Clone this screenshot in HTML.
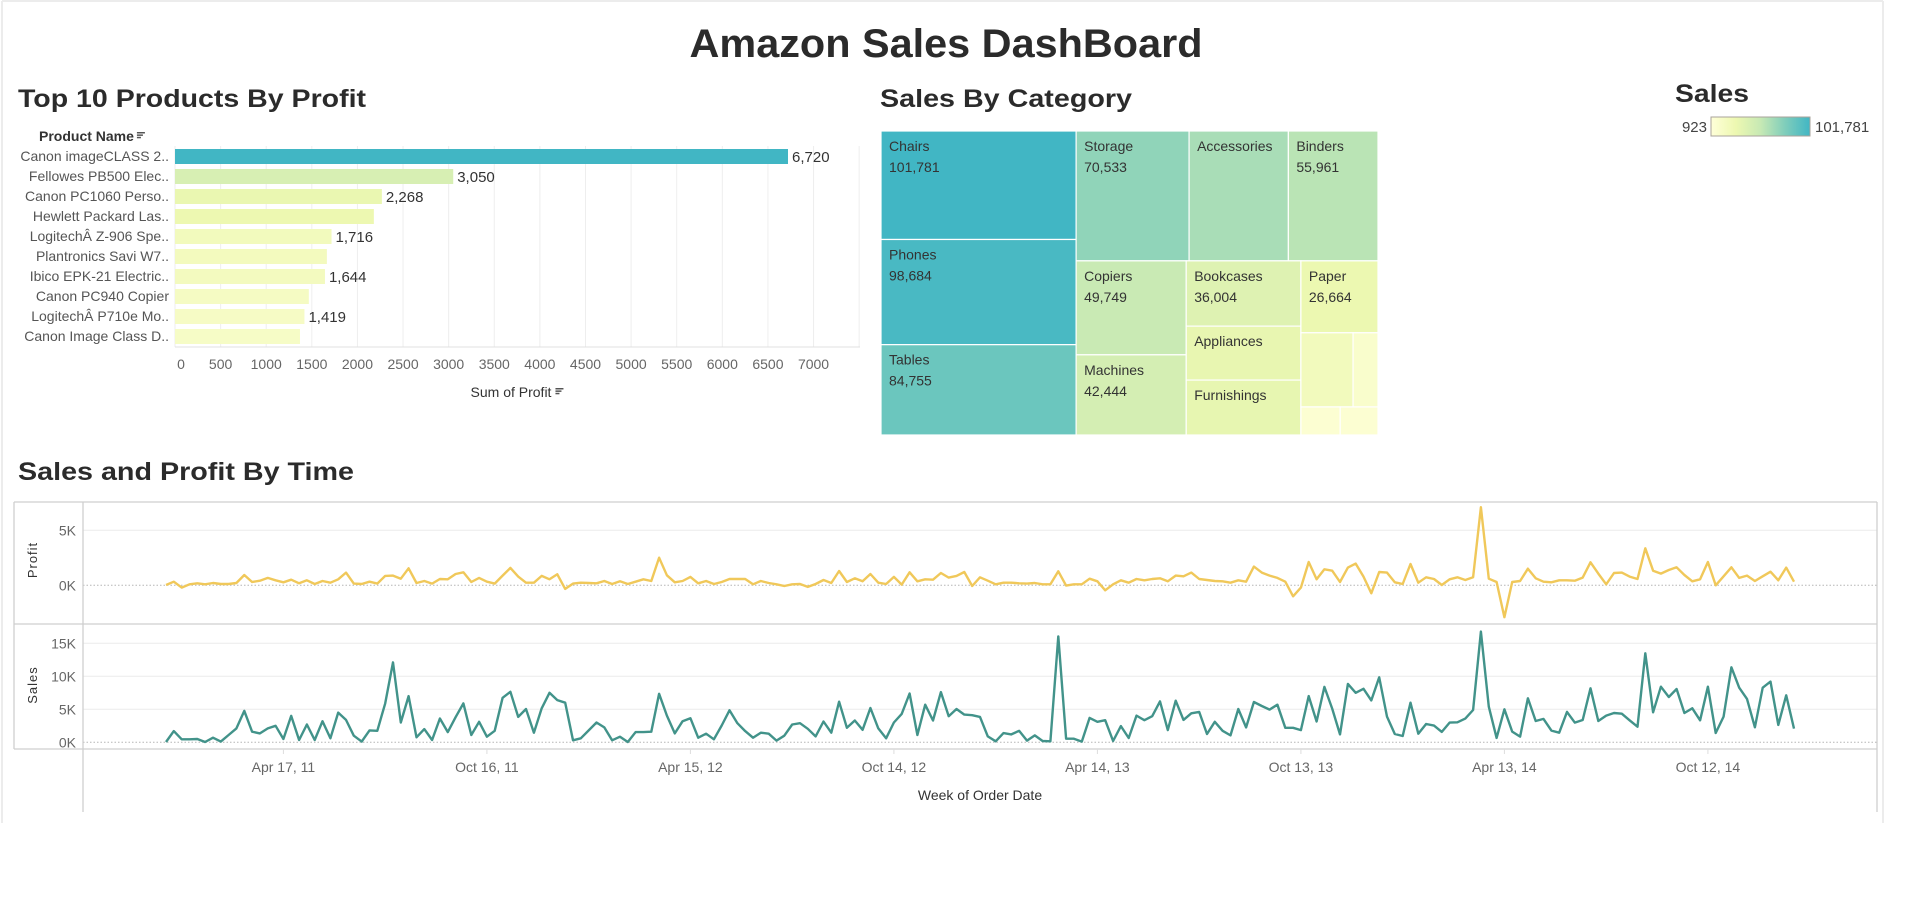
<!DOCTYPE html>
<html><head><meta charset="utf-8"><title>Amazon Sales DashBoard</title>
<style>
html,body{margin:0;padding:0;background:#fff;}
svg{display:block;font-family:"Liberation Sans",sans-serif;}
</style></head>
<body>
<svg id="dash" width="1914" height="914" viewBox="0 0 1914 914" xmlns="http://www.w3.org/2000/svg">
  <line x1="2" y1="1" x2="1883" y2="1" stroke="#ececec" stroke-width="2"/>
  <line x1="2" y1="1" x2="2" y2="823" stroke="#ececec" stroke-width="2"/>
  <line x1="1883" y1="1" x2="1883" y2="823" stroke="#ececec" stroke-width="2"/>
  <text x="946" y="57" text-anchor="middle" font-size="40" font-weight="bold" fill="#2b2b2b" textLength="513" lengthAdjust="spacingAndGlyphs">Amazon Sales DashBoard</text>
  <text x="18" y="107" font-size="25" font-weight="bold" fill="#2b2b2b" textLength="348" lengthAdjust="spacingAndGlyphs">Top 10 Products By Profit</text>
  <text x="880" y="107" font-size="25" font-weight="bold" fill="#2b2b2b" textLength="252" lengthAdjust="spacingAndGlyphs">Sales By Category</text>
  <text x="18" y="480" font-size="25" font-weight="bold" fill="#2b2b2b" textLength="336" lengthAdjust="spacingAndGlyphs">Sales and Profit By Time</text>
  <g id="bars"></g>
  <g id="tree"></g>
  <g id="legend"></g>
  <g id="lines"></g>
</svg>
<script>
// ---------- Bar chart data ----------
const products = ["Canon imageCLASS 2..","Fellowes PB500 Elec..","Canon PC1060 Perso..","Hewlett Packard Las..","LogitechÂ Z-906 Spe..","Plantronics Savi W7..","Ibico EPK-21 Electric..","Canon PC940 Copier","LogitechÂ P710e Mo..","Canon Image Class D.."];
const profits = [6720,3050,2268,2180,1716,1665,1644,1467,1419,1370];
const showProfitLabel = [true,true,true,false,true,false,true,false,true,false];
const profitTicks = [0,500,1000,1500,2000,2500,3000,3500,4000,4500,5000,5500,6000,6500,7000];

// ---------- Treemap data ----------
const categories = ["Chairs","Phones","Tables","Storage","Accessories","Binders","Copiers","Machines","Bookcases","Appliances","Furnishings","Paper","Art","Supplies","Envelopes","Labels"];
const categorySales = [101781,98684,84755,70533,62000,55961,49749,42444,36004,29750,30300,26664,18600,8900,5300,5100];
const showCatName = [true,true,true,true,true,true,true,true,true,true,true,true,false,false,false,false];
const showCatValue = [true,true,true,true,false,true,true,true,true,false,false,true,false,false,false,false];
const legendMin = 923, legendMax = 101781;

// ---------- Line chart data (weekly) ----------
const weeklyProfit = [30,330,-210,90,180,90,210,120,120,210,940,300,420,670,450,270,510,180,450,120,390,240,550,1150,150,120,330,150,850,880,600,1550,210,390,150,570,550,1030,1180,300,670,330,150,880,1580,790,240,240,850,550,1000,-330,
150,240,210,180,390,120,360,120,330,550,390,2510,910,270,390,760,180,390,120,300,570,570,570,90,390,210,90,-60,90,120,-150,120,480,210,1300,300,640,360,1030,240,120,760,60,1180,360,550,510,1120,700,850,1210,-60,
730,420,90,240,240,180,150,210,90,90,1270,-30,90,90,600,360,-450,90,450,240,570,450,570,640,360,880,820,1150,570,480,390,360,240,450,330,1700,1150,880,670,330,-1000,-210,2120,550,1450,1330,300,1610,1970,790,-730,1210,1150,
270,120,1940,240,730,570,30,550,730,480,730,7100,600,300,-2900,300,390,1510,640,330,270,450,450,420,700,2090,1060,90,1120,1150,790,570,3360,1330,1060,1390,1640,940,360,550,2120,0,820,1640,670,880,390,820,1240,450,1610,330];
const weeklySales = [50,1700,450,450,500,50,700,100,1100,2100,4750,1600,1350,2100,2500,500,4000,350,2700,350,3200,600,4500,3400,1000,100,1800,1750,5900,12100,3000,7000,750,2000,350,3600,1550,3800,5900,1100,3100,850,1750,6750,7650,3850,5050,1450,5150,7500,6400,6000,
300,600,1800,3000,2250,300,850,50,1550,1550,1600,7350,4050,1350,3200,3650,700,1300,450,2550,4850,2900,1700,700,1450,1300,250,1000,2700,2900,2050,900,3150,1450,6150,2200,3300,1900,5200,2100,600,3000,4300,7400,1100,5700,3300,7600,3950,5050,4200,4100,
3850,900,150,1400,1200,1750,250,1050,200,150,16050,550,550,100,3700,3100,3350,200,2450,650,4050,3350,3950,6200,1850,6300,3400,4400,4600,1250,3100,1750,1050,5050,2250,6100,5500,4950,5700,2200,2200,1850,7000,3150,8400,5100,1200,8850,7500,8100,6350,9850,3900,
1260,960,6000,1310,2780,2530,1570,2980,3030,3590,4900,16770,5400,660,5000,1620,860,6670,3230,3540,1770,1460,4600,2980,3380,8180,3230,4040,4440,4340,3330,2370,13480,4540,8430,6870,8080,4440,5150,3330,8430,1410,3890,11360,8280,6570,2270,8280,9190,2630,7120,2070];
const dateTickIndex = [15,41,67,93,119,145,171,197];
const dateTickLabels = ["Apr 17, 11","Oct 16, 11","Apr 15, 12","Oct 14, 12","Apr 14, 13","Oct 13, 13","Apr 13, 14","Oct 12, 14"];
const profitAxisTicks = [0,5000];
const salesAxisTicks = [0,5000,10000,15000];

const NS = "http://www.w3.org/2000/svg";
function mk(tag, attrs, parent){
  const e = document.createElementNS(NS, tag);
  for (const k in attrs) e.setAttribute(k, attrs[k]);
  parent.appendChild(e);
  return e;
}
function fmt(v){ return Math.round(v).toLocaleString("en-US"); }
function fmtK(v){ return Math.round(v/1000) + "K"; }
const stops = [[0,[255,255,217]],[0.25,[237,248,177]],[0.5,[199,233,180]],[0.75,[127,205,187]],[1,[65,182,196]]];
function ramp(t){
  t = Math.max(0, Math.min(1, t));
  for (let i=1;i<stops.length;i++){
    if (t <= stops[i][0]){
      const a = stops[i-1], b = stops[i], f = (t-a[0])/(b[0]-a[0]);
      const c = a[1].map((x,j)=>Math.round(x+(b[1][j]-x)*f));
      return "rgb("+c.join(",")+")";
    }
  }
  return "rgb(65,182,196)";
}

// ================= BAR CHART =================
(function(){
  const g = document.getElementById("bars");
  const x0 = 175, pxPerUnit = 613/6720, top = 149, rowH = 20, barH = 15, plotRight = 860, axisY = 347;
  const xScale = v => x0 + v*pxPerUnit;
  const yBand = i => top + i*rowH;
  const minP = Math.min(...profits), maxP = Math.max(...profits);
  profitTicks.concat([7500]).forEach((t,i)=>{
    const gl = mk("line",{x1:xScale(t),x2:xScale(t),y1:146,y2:axisY,stroke:"#eeeeee","stroke-width":1},g);
    
    
  });
  const ax = mk("line",{x1:x0,x2:plotRight,y1:axisY,y2:axisY,stroke:"#e0e0e0","stroke-width":1},g);
  
  
  profitTicks.forEach(t=>{
    const tl = mk("text",{x:xScale(t)+ (t===0?6:0),y:369,"text-anchor":"middle","font-size":14,fill:"#666"},g);
    tl.textContent = String(t);
    
    
  });
  products.forEach((p,i)=>{
    const t = (profits[i]-minP)/(maxP-minP);
    const r = mk("rect",{x:x0,y:yBand(i),width:xScale(profits[i])-x0,height:barH,fill:ramp(0.12+t*0.88)},g);
    
    
    const lb = mk("text",{x:169,y:yBand(i)+12,"text-anchor":"end","font-size":14,fill:"#555"},g);
    lb.textContent = p;
    
    
    if (showProfitLabel[i]){
      const vl = mk("text",{x:xScale(profits[i])+4,y:yBand(i)+13,"font-size":15,fill:"#333"},g);
      vl.textContent = fmt(profits[i]);
      
      
    }
  });
  const ph = mk("text",{x:39,y:141,"font-size":14,fill:"#333","font-weight":"bold"},g);
  ph.textContent = "Product Name";
  
  
  const phEnd = 39 + ph.getComputedTextLength() + 3;
  [[0,8],[2,6],[4,4]].forEach((s,i)=>{
    const l = mk("rect",{x:phEnd,y:132+s[0]*1.2,width:s[1],height:1.5,fill:"#555"},g);
    
    
  });
  const xt = mk("text",{x:511,y:397,"text-anchor":"middle","font-size":14,fill:"#333"},g);
  xt.textContent = "Sum of Profit";
  
  
  const xtEnd = 511 + xt.getComputedTextLength()/2 + 4;
  [[0,8],[2,6],[4,4]].forEach((s,i)=>{
    const l = mk("rect",{x:xtEnd,y:388+s[0]*1.2,width:s[1],height:1.5,fill:"#555"},g);
    
    
  });
})();

// ================= TREEMAP =================
(function(){
  const g = document.getElementById("tree");
  const X = 881, Y = 131, W = 497, H = 304;
  const layout = ["h",[
    ["v",[0,1,2]],
    ["v",[
      ["h",[3,4,5]],
      ["h",[
        ["v",[6,7]],
        ["v",[8,9,10]],
        ["v",[11,["h",[12,13]],["h",[14,15]]]]
      ]]
    ]]
  ]];
  function sum(node){ return typeof node === "number" ? categorySales[node] : node[1].reduce((a,c)=>a+sum(c),0); }
  function place(node,x,y,w,h){
    if (typeof node === "number"){ drawCell(node,x,y,w,h); return; }
    const total = sum(node); let off = 0;
    node[1].forEach(c=>{
      const f = sum(c)/total;
      if (node[0]==="h"){ place(c,x+off,y,w*f,h); off += w*f; }
      else { place(c,x,y+off,w,h*f); off += h*f; }
    });
  }
  function drawCell(i,x,y,w,h){
    const t = (categorySales[i]-legendMin)/(legendMax-legendMin);
    const r = mk("rect",{x:x,y:y,width:w,height:h,fill:ramp(t),stroke:"#fff","stroke-width":1.2},g);
    
    
    if (showCatName[i]){
      const n = mk("text",{x:x+8,y:y+20,"font-size":14,fill:"#333"},g);
      n.textContent = categories[i];
      
      
    }
    if (showCatValue[i]){
      const v = mk("text",{x:x+8,y:y+41,"font-size":14,fill:"#333"},g);
      v.textContent = fmt(categorySales[i]);
      
      
    }
  }
  place(layout,X,Y,W,H);
})();

// ================= LEGEND =================
(function(){
  const g = document.getElementById("legend");
  const defs = mk("defs",{},g);
  const lg = mk("linearGradient",{id:"salesGrad",x1:"0",x2:"1",y1:"0",y2:"0"},defs);
  stops.forEach(s=>{ mk("stop",{offset:s[0],"stop-color":"rgb("+s[1].join(",")+")"},lg); });
  const tt = mk("text",{x:1675,y:102,"font-size":25,"font-weight":"bold",fill:"#2b2b2b",textLength:74,lengthAdjust:"spacingAndGlyphs"},g);
  tt.textContent = "Sales";
  
  
  const r = mk("rect",{x:1711,y:117,width:99,height:19,fill:"url(#salesGrad)",stroke:"#a9a39b","stroke-width":1},g);
  
  
  const a = mk("text",{x:1707,y:132,"text-anchor":"end","font-size":15,fill:"#444"},g);
  a.textContent = fmt(legendMin);
  
  
  const b = mk("text",{x:1815,y:132,"font-size":15,fill:"#444"},g);
  b.textContent = fmt(legendMax);
  
  
})();

// ================= LINE CHART =================
(function(){
  const g = document.getElementById("lines");
  const L = 14, A = 83, R = 1877, T = 502, DIV = 624, B = 749, BOT = 812;
  const x0 = 166, step = (1794-166)/208;
  const xScale = i => x0 + i*step;
  const yProfit = v => 585.3 - v*55/5000;
  const ySales = v => 742.3 - v*33/5000;
  const frame = [[L,T,R,T,"frame-top"],[L,DIV,R,DIV,"pane-divider"],[L,B,R,B,"x-axis-line"],[L,T,L,B,"frame-left"],[A,T,A,BOT,"y-axis-line"],[R,T,R,BOT,"frame-right"]];
  profitAxisTicks.forEach(t=>{
    const gl = mk("line",{x1:A,x2:R,y1:yProfit(t),y2:yProfit(t),stroke:t===0?"#b5b5b5":"#ececec","stroke-width":1,"stroke-dasharray":t===0?"1.5,2":"none"},g);
    
    
    const tl = mk("text",{x:76,y:yProfit(t)+5,"text-anchor":"end","font-size":14,fill:"#666"},g);
    tl.textContent = fmtK(t);
    
    
  });
  salesAxisTicks.forEach(t=>{
    const gl = mk("line",{x1:A,x2:R,y1:ySales(t),y2:ySales(t),stroke:t===0?"#b5b5b5":"#ececec","stroke-width":1,"stroke-dasharray":t===0?"1.5,2":"none"},g);
    
    
    const tl = mk("text",{x:76,y:ySales(t)+5,"text-anchor":"end","font-size":14,fill:"#666"},g);
    tl.textContent = fmtK(t);
    
    
  });
  frame.forEach(f=>{
    const l = mk("line",{x1:f[0],y1:f[1],x2:f[2],y2:f[3],stroke:"#cfcfcf","stroke-width":1.3},g);
    
    
  });
  dateTickIndex.forEach((d,i)=>{
    const tk = mk("line",{x1:xScale(d),x2:xScale(d),y1:B,y2:B+5,stroke:"#ddd"},g);
    
    
    const tl = mk("text",{x:xScale(d),y:772,"text-anchor":"middle","font-size":14,fill:"#666"},g);
    tl.textContent = dateTickLabels[i];
    
    
  });
  const xt = mk("text",{x:980,y:800,"text-anchor":"middle","font-size":14,fill:"#333"},g);
  xt.textContent = "Week of Order Date";
  
  
  const py = mk("text",{transform:"translate(37,560) rotate(-90)","text-anchor":"middle","font-size":13,fill:"#333","letter-spacing":"1"},g);
  py.textContent = "Profit";
  
  
  const sy = mk("text",{transform:"translate(37,685) rotate(-90)","text-anchor":"middle","font-size":13,fill:"#333","letter-spacing":"1"},g);
  sy.textContent = "Sales";
  
  
  const pp = weeklyProfit.map((v,i)=>xScale(i).toFixed(1)+","+yProfit(v).toFixed(1)).join(" ");
  const pl = mk("polyline",{points:pp,fill:"none",stroke:"#f0c85a","stroke-width":2.4,"stroke-linejoin":"round"},g);
  
  
  const sp = weeklySales.map((v,i)=>xScale(i).toFixed(1)+","+ySales(v).toFixed(1)).join(" ");
  const sl = mk("polyline",{points:sp,fill:"none",stroke:"#42938a","stroke-width":2.4,"stroke-linejoin":"round"},g);
  
  
})();
</script>
</body></html>
